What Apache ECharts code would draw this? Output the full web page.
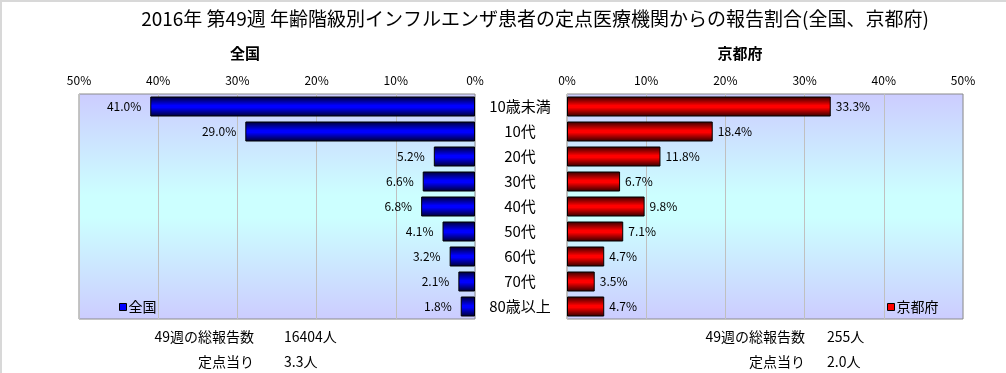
<!DOCTYPE html>
<html><head><meta charset="utf-8">
<script src="https://cdn.jsdelivr.net/npm/echarts@6/dist/echarts.min.js"></script>
<style>
html,body{margin:0;padding:0;background:#fff;}
#c{width:1006px;height:373px;box-sizing:border-box;border-top:2px solid #d8d8d8;border-left:2px solid #d8d8d8;}
</style></head>
<body><div id="c"></div>
<script>
var titleText = '2016年 第49週 年齢階級別インフルエンザ患者の定点医療機関からの報告割合(全国、京都府)';
var regions = ['全国', '京都府'];
var categories = ['10歳未満', '10代', '20代', '30代', '40代', '50代', '60代', '70代', '80歳以上'];
var zenkoku = [41.0, 29.0, 5.2, 6.6, 6.8, 4.1, 3.2, 2.1, 1.8];
var kyoto = [33.3, 18.4, 11.8, 6.7, 9.8, 7.1, 4.7, 3.5, 4.7];
var totalLabel = '49週の総報告数';
var perSiteLabel = '定点当り';
var totals = ['16404人', '255人'];
var perSite = ['3.3人', '2.0人'];

var FONT = '"Noto Sans CJK JP", "Noto Sans", sans-serif';
var chart = echarts.init(document.getElementById('c'), null, {renderer: 'canvas'});

function bg() {
  return new echarts.graphic.LinearGradient(0, 0, 0, 1, [
    {offset: 0, color: '#ccccff'},
    {offset: 0.45, color: '#ccffff'},
    {offset: 0.55, color: '#ccffff'},
    {offset: 1, color: '#ccccff'}
  ]);
}
function barGrad(dark, bright) {
  return new echarts.graphic.LinearGradient(0, 0, 0, 1, [
    {offset: 0, color: dark},
    {offset: 0.45, color: bright},
    {offset: 0.55, color: bright},
    {offset: 1, color: dark}
  ]);
}
function xAxis(idx, inverse) {
  return {
    gridIndex: idx, type: 'value', min: 0, max: 50, interval: 10, inverse: inverse,
    position: 'top',
    axisLabel: {formatter: '{value}%', color: '#000', fontSize: 12, margin: 8, fontFamily: FONT},
    axisLine: {show: false}, axisTick: {show: false},
    splitLine: {show: true, lineStyle: {color: '#c0c0c0', width: 1}}
  };
}
var option = {
  animation: false,
  textStyle: {fontFamily: FONT},
  grid: [
    {left: 77, top: 92, width: 396, height: 225, show: true, backgroundColor: bg(), borderColor: '#8a8a8a', borderWidth: 1},
    {left: 565, top: 92, width: 396, height: 225, show: true, backgroundColor: bg(), borderColor: '#8a8a8a', borderWidth: 1}
  ],
  xAxis: [xAxis(0, true), xAxis(1, false)],
  yAxis: [
    {gridIndex: 0, type: 'category', data: categories, inverse: true, position: 'right',
     axisLabel: {show: false}, axisLine: {show: false}, axisTick: {show: false}},
    {gridIndex: 1, type: 'category', data: categories, inverse: true,
     axisLabel: {show: true, color: '#000', fontSize: 15, margin: 47, align: 'center', fontFamily: FONT, padding: [5, 0, 0, 0]},
     axisLine: {show: false}, axisTick: {show: false}}
  ],
  legend: [
    {data: [{name: regions[0], itemStyle: {color: '#0000ff', borderColor: '#000', borderWidth: 1}}],
     left: 112, top: 293, icon: 'rect', itemWidth: 7, itemHeight: 7, itemGap: 2,
     textStyle: {fontSize: 14, color: '#000', padding: [0, 0, 0, -3]}, selectedMode: false},
    {data: [{name: regions[1], itemStyle: {color: '#ff0000', borderColor: '#000', borderWidth: 1}}],
     left: 880, top: 293, icon: 'rect', itemWidth: 7, itemHeight: 7, itemGap: 2,
     textStyle: {fontSize: 14, color: '#000', padding: [0, 0, 0, -3]}, selectedMode: false}
  ],
  series: [
    {name: regions[0], type: 'bar', xAxisIndex: 0, yAxisIndex: 0, data: zenkoku, barWidth: 20,
     itemStyle: {color: barGrad('#000030', '#0000ff'), borderColor: '#000', borderWidth: 1},
     label: {show: true, position: 'left', distance: 9, color: '#000', fontSize: 12,
       formatter: function (p) { return p.value.toFixed(1) + '%'; }}},
    {name: regions[1], type: 'bar', xAxisIndex: 1, yAxisIndex: 1, data: kyoto, barWidth: 20,
     itemStyle: {color: barGrad('#300000', '#ff0000'), borderColor: '#000', borderWidth: 1},
     label: {show: true, position: 'right', distance: 5, color: '#000', fontSize: 12,
       formatter: function (p) { return p.value.toFixed(1) + '%'; }}}
  ],
  graphic: [
    {type: 'text', x: 533, y: 17, style: {text: titleText, font: '19px ' + FONT, fill: '#000', align: 'center', verticalAlign: 'middle'}},
    {type: 'text', x: 243, y: 51, style: {text: regions[0], font: 'bold 15px ' + FONT, fill: '#000', align: 'center', verticalAlign: 'middle'}},
    {type: 'text', x: 738, y: 51, style: {text: regions[1], font: 'bold 15px ' + FONT, fill: '#000', align: 'center', verticalAlign: 'middle'}},
    {type: 'text', x: 252, y: 335, style: {text: totalLabel, font: '14px ' + FONT, fill: '#000', align: 'right', verticalAlign: 'middle'}},
    {type: 'text', x: 282, y: 335, style: {text: totals[0], font: '14px ' + FONT, fill: '#000', align: 'left', verticalAlign: 'middle'}},
    {type: 'text', x: 252, y: 360, style: {text: perSiteLabel, font: '14px ' + FONT, fill: '#000', align: 'right', verticalAlign: 'middle'}},
    {type: 'text', x: 282, y: 360, style: {text: perSite[0], font: '14px ' + FONT, fill: '#000', align: 'left', verticalAlign: 'middle'}},
    {type: 'text', x: 803, y: 335, style: {text: totalLabel, font: '14px ' + FONT, fill: '#000', align: 'right', verticalAlign: 'middle'}},
    {type: 'text', x: 825, y: 335, style: {text: totals[1], font: '14px ' + FONT, fill: '#000', align: 'left', verticalAlign: 'middle'}},
    {type: 'text', x: 803, y: 360, style: {text: perSiteLabel, font: '14px ' + FONT, fill: '#000', align: 'right', verticalAlign: 'middle'}},
    {type: 'text', x: 825, y: 360, style: {text: perSite[1], font: '14px ' + FONT, fill: '#000', align: 'left', verticalAlign: 'middle'}}
  ]
};
chart.setOption(option);
</script></body></html>
